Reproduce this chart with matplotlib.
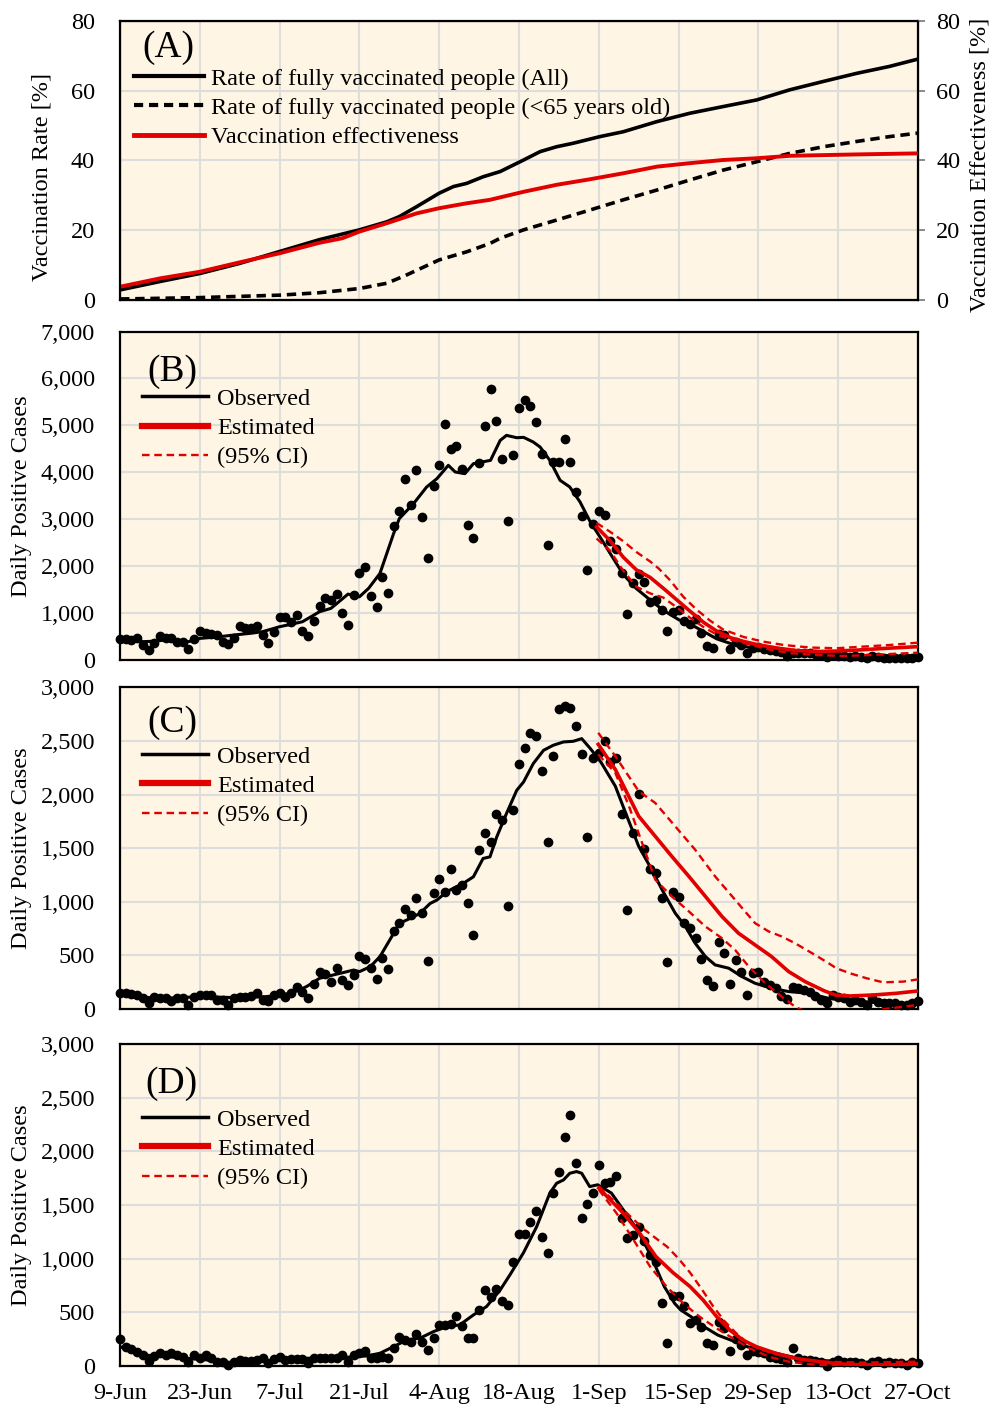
import numpy as np
import matplotlib
matplotlib.use("Agg")
import matplotlib.pyplot as plt
from matplotlib.lines import Line2D
from matplotlib.ticker import FuncFormatter

plt.rcParams['font.family'] = ['Liberation Serif', 'DejaVu Serif']
FS = 17.5
plt.rcParams['font.size'] = FS

# x axis: days since 9-Jun
tick_days = list(range(0, 141, 14))
tick_labels = ['9-Jun', '23-Jun', '7-Jul', '21-Jul', '4-Aug', '18-Aug', '1-Sep',
               '15-Sep', '29-Sep', '13-Oct', '27-Oct']
days = np.arange(141)

# ---- panel A: vaccination
vac_all_d = [0, 7, 14, 21, 28, 35, 42, 46.8, 49, 52, 56, 58.5, 60.8, 63.7, 66.7, 70.8, 73.7,
             76.6, 79.5, 84.2, 88.3, 94.2, 100, 105.8, 111.7, 117.5, 123.4, 129.2, 135, 140]
vac_all = [2.9, 5.3, 7.6, 10.5, 13.9, 17.3, 20.1, 22.4, 23.9, 26.7, 30.6, 32.5, 33.4, 35.3, 36.8,
           40.1, 42.5, 43.9, 44.9, 46.8, 48.2, 51.1, 53.5, 55.4, 57.3, 60.2, 62.6, 64.9, 66.9, 69.0]
vac_u65_d = [0, 14, 28, 35, 42, 46.8, 50.3, 56, 60.8, 64.9, 66.7, 70.8, 76.6, 82.5, 88.3, 94.2,
             100, 105.8, 111.7, 117.5, 123.4, 129.2, 135, 140]
vac_u65 = [0.3, 0.7, 1.4, 2.1, 3.3, 4.8, 7.2, 11.5, 13.8, 16.2, 17.7, 20.1, 22.9, 25.8, 28.7, 31.5,
           34.4, 37.2, 39.6, 42.0, 43.9, 45.4, 46.8, 47.8]
eff_d = [0, 7, 14, 21, 28, 35, 39, 42, 46.8, 52, 56, 60.8, 64.9, 70.8, 76.6, 82.5, 88.3, 94.2,
         100, 105.8, 111.7, 117.5, 123.4, 129.2, 140]
eff = [3.8, 6.2, 8.1, 10.8, 13.4, 16.4, 17.7, 19.6, 22.0, 24.8, 26.3, 27.7, 28.7, 31.0, 33.0, 34.6,
       36.3, 38.2, 39.2, 40.1, 40.6, 41.3, 41.5, 41.7, 42.0]

# ---- panel B
b_dots = [450, 440, 425, 470, 320, 213, 355, 510, 460, 460, 390, 390, 234, 440, 624, 567, 546, 532,
          390, 333, 460, 723, 674, 674, 723, 532, 355, 603, 922, 922, 815, 957, 617, 510, 830, 1156,
          1312, 1277, 1404, 1007, 745, 1380, 1844, 1971, 1362, 1135, 1759, 1433, 2851, 3177, 3865,
          3298, 4043, 3050, 2184, 3702, 4163, 5035, 4503, 4553, 4064, 2886, 2610, 4199, 4979, 5766,
          5092, 4291, 2957, 4376, 5376, 5532, 5404, 5071, 4383, 2447, 4220, 4220, 4702, 4220, 3582,
          3078, 1915, 2908, 3170, 3099, 2539, 2355, 1858, 972, 1631, 1830, 1667, 1241, 1277, 1064,
          617, 1028, 1064, 830, 766, 872, 567, 305, 248, 546, 532, 234, 390, 319, 142, 248, 270, 227,
          213, 191, 177, 85, 156, 156, 142, 142, 120, 100, 60, 110, 95, 80, 60, 75, 60, 40, 85, 60,
          45, 45, 45, 35, 35, 45, 60]
b_obs_d = [0, 2, 4, 6, 8, 10, 12, 14, 17, 20, 23, 25, 28, 30, 32, 35, 37, 38, 40, 42, 43.6, 45.6,
           48, 49, 51.5, 53.8, 55.6, 57.6, 58.8, 60.5, 62, 65, 66.7, 67.8, 69.6, 70.8, 72.5, 73.7,
           75.4, 77.2, 78.9, 80.7, 82.5, 84.2, 86, 88.3, 90.6, 93, 95.3, 98, 101, 104.7, 107.5,
           111.7, 114.6, 117.5, 120.5, 123.4, 129.3, 135, 140]
b_obs = [447, 420, 390, 400, 425, 410, 390, 460, 490, 532, 570, 603, 709, 760, 815, 1028, 1100,
         1200, 1404, 1347, 1525, 1844, 2695, 3014, 3333, 3688, 3865, 4149, 4007, 3971, 4184, 4255,
         4680, 4787, 4737, 4745, 4645, 4539, 4255, 3830, 3688, 3369, 2943, 2624, 2270, 1820, 1520,
         1280, 1060, 860, 700, 450, 335, 240, 205, 170, 142, 106, 71, 57, 57]
b_est_d = [83.6, 86, 88.3, 90.6, 93, 95.3, 97.7, 100, 102.4, 104.7, 107.2, 109.4, 111.7, 115.2,
           118.7, 122.2, 125.7, 129.2, 133.9, 140]
b_est = [2837, 2540, 2190, 1920, 1760, 1530, 1280, 1040, 800, 615, 470, 395, 330, 255, 200, 180,
         190, 210, 245, 284]
b_up_d = [83.6, 86, 88.3, 90.6, 93, 94.5, 96.5, 98.8, 101.1, 103.5, 105.8, 109.4, 112.9, 116.4,
          121.1, 125.7, 130.4, 135.1, 140]
b_up = [2922, 2730, 2530, 2300, 2100, 1950, 1700, 1350, 1080, 840, 650, 490, 390, 320, 265, 250,
        285, 320, 369]
b_lo_d = [83.6, 85.9, 88.3, 90.6, 93, 95.3, 97.7, 100, 102.4, 104.7, 107.2, 110.7, 114.2, 117.7,
          122.2, 126.9, 131.5, 140]
b_lo = [2589, 2340, 1900, 1560, 1420, 1330, 1120, 900, 700, 540, 430, 320, 215, 145, 106, 85, 106,
        156]

# ---- panel C
c_dots = [152, 146, 140, 130, 99, 59, 109, 106, 99, 75, 106, 106, 37, 115, 130, 130, 130, 84, 84,
          37, 99, 109, 115, 121, 146, 84, 75, 130, 146, 115, 152, 202, 161, 99, 233, 348, 326, 255,
          379, 270, 224, 317, 494, 463, 379, 276, 472, 370, 730, 804, 929, 876, 1031, 891, 447,
          1078, 1217, 1090, 1304, 1106, 1155, 991, 689, 1481, 1646, 1553, 1823, 1761, 960, 1854,
          2289, 2438, 2578, 2547, 2217, 1553, 2360, 2801, 2823, 2807, 2637, 2382, 1606, 2345, 2390,
          2500, 2304, 2345, 1817, 922, 1646, 2009, 1488, 1304, 1264, 1031, 435, 1093, 1040, 804,
          752, 658, 463, 270, 214, 627, 525, 230, 457, 348, 130, 332, 348, 255, 224, 193, 121, 90,
          208, 193, 177, 161, 121, 84, 53, 130, 115, 99, 68, 84, 68, 37, 99, 68, 53, 53, 53, 37, 37,
          53, 75]
c_obs_d = [0, 4, 8, 14, 20, 25.7, 30, 32.7, 35, 37.4, 41, 42, 43.9, 45.6, 48, 49, 50.9, 52.6, 54.4,
           55.6, 57.3, 59, 60.2, 62, 63.7, 64.9, 66.1, 67.8, 69.6, 70.8, 72.5, 74.3, 76, 77.8, 79.5,
           81, 82.5, 84.4, 86.9, 88.7, 91, 93.3, 95.1, 97.4, 99.2, 100.9, 102.7, 104.4, 106.8, 109.1,
           111.4, 114.3, 117.3, 120.8, 124.3, 127, 130.4, 133.9, 137.4, 140]
c_obs = [152, 109, 99, 115, 106, 115, 146, 208, 286, 317, 363, 348, 394, 488, 705, 798, 845, 891,
         984, 1016, 1093, 1140, 1171, 1233, 1404, 1419, 1606, 1823, 2040, 2118, 2289, 2413, 2460,
         2491, 2497, 2522, 2430, 2300, 2078, 1829, 1517, 1299, 1112, 894, 769, 614, 489, 411, 380,
         302, 240, 193, 162, 146, 99, 84, 68, 53, 28, 68]
c_est_d = [83.9, 86.9, 91, 93.9, 96.8, 99.8, 102.7, 105.6, 108.5, 111.4, 114.3, 117.3, 120.2,
           123.5, 125.5, 128.1, 132.1, 136.2, 140]
c_est = [2469, 2234, 1798, 1611, 1424, 1237, 1050, 863, 707, 598, 489, 349, 255, 170, 130, 121,
         130, 146, 168]
c_up_d = [83.9, 86.9, 91, 93.9, 97.4, 100.9, 104.4, 107.9, 111.4, 113.8, 116.1, 118.4, 121.9,
          124.3, 125.7, 128.1, 131, 133.9, 137.4, 140]
c_up = [2576, 2358, 2031, 1922, 1704, 1486, 1237, 1019, 801, 723, 676, 614, 505, 427, 379, 332,
        286, 248, 255, 276]
c_lo_d = [83.9, 86.9, 89.3, 91.6, 93.9, 96.8, 99.8, 102.7, 105.6, 107.9, 110.3, 113.2, 116.1,
          118.4, 120.2, 125, 130, 133, 135, 138, 140]
c_lo = [2374, 2202, 1891, 1548, 1206, 1050, 910, 769, 660, 551, 396, 240, 115, 22, -25, -60, -30,
        -10, 5, 25, 37]

# ---- panel D
d_dots = [248, 180, 155, 134, 102, 47, 93, 118, 102, 118, 102, 87, 40, 102, 71, 102, 71, 40, 40, 9,
          40, 56, 50, 50, 56, 71, 25, 62, 81, 56, 62, 62, 62, 31, 71, 71, 71, 71, 71, 102, 40, 102,
          118, 143, 71, 71, 87, 71, 165, 273, 242, 227, 298, 227, 149, 258, 382, 382, 391, 466, 373,
          258, 258, 522, 708, 646, 716, 609, 568, 972, 1227, 1227, 1345, 1444, 1199, 1056, 1609,
          1811, 2137, 2339, 1888, 1382, 1506, 1609, 1873, 1708, 1717, 1770, 1376, 1189, 1220, 1292,
          1168, 1034, 972, 584, 211, 652, 652, 559, 398, 429, 366, 211, 196, 413, 351, 143, 248,
          196, 102, 143, 134, 118, 87, 71, 62, 40, 165, 71, 56, 56, 50, 40, 0, 40, 56, 40, 40, 40,
          25, 9, 40, 50, 25, 40, 31, 25, 9, 40, 31]
d_obs_d = [0, 2.3, 4.1, 8.2, 11.7, 15.2, 18.7, 22.2, 25.7, 29.2, 32.7, 36.3, 39.8, 43.3, 45.6, 48,
           50.3, 52.6, 55, 57.3, 59.6, 62, 64.3, 66.7, 68.4, 70.8, 73.1, 75.4, 76.6, 77.8, 78.9,
           80.1, 81, 82.4, 83.8, 86.2, 88.5, 90.8, 93.2, 95.5, 97.3, 98.4, 100.2, 102.5, 104.9,
           107.2, 110.1, 113, 116.5, 120.6, 123.4, 126.9, 130.4, 133.9, 137.4, 140]
d_obs = [180, 134, 102, 87, 71, 56, 25, 40, 47, 62, 71, 78, 81, 93, 118, 180, 242, 258, 320, 366,
         382, 475, 553, 708, 848, 1056, 1298, 1609, 1702, 1733, 1795, 1811, 1795, 1671, 1688, 1611,
         1439, 1268, 1019, 738, 583, 520, 458, 364, 287, 240, 178, 146, 100, 53, 50, 40, 34, 34,
         31, 40]
d_est_d = [84, 88, 91, 94, 97, 100, 102.3, 104.7, 107, 109.3, 111.7, 115.2, 118.7, 122.7, 126, 130,
           135, 140]
d_est = [1657, 1440, 1250, 1020, 870, 740, 614, 458, 333, 240, 178, 115, 69, 40, 20, 10, 10, 19]
d_up_d = [84, 88, 92, 96, 98, 100, 102, 104, 106, 108, 110, 112, 115, 118, 123, 130, 140]
d_up = [1673, 1470, 1270, 1110, 1000, 870, 720, 560, 420, 310, 220, 160, 110, 70, 40, 31, 40]
d_lo_d = [84, 87.1, 90.1, 93, 95.9, 98.8, 101.7, 104.7, 107.6, 110.5, 114, 117.5, 122.7, 130, 135,
          140]
d_lo = [1642, 1424, 1174, 925, 738, 583, 458, 349, 255, 162, 84, 37, 9, 0, 5, 16]

RED = '#E00000'
BG = '#FFF5E4'
GRID = '#DDDDDD'
CI_LS = (0, (3.2, 2.0))

fig = plt.figure(figsize=(9.92, 14.06), dpi=100)
L, W = 0.121, 0.8044
axA = fig.add_axes([L, 0.7866, W, 0.1987])
axB = fig.add_axes([L, 0.5306, W, 0.2336])
axC = fig.add_axes([L, 0.2824, W, 0.2287])
axD = fig.add_axes([L, 0.0285, W, 0.2290])


def style(ax, ymax, ystep, fmt=True):
    ax.set_facecolor(BG)
    ax.set_xlim(0, 140)
    ax.set_ylim(0, ymax)
    ax.set_xticks(tick_days)
    ax.set_yticks(np.arange(0, ymax + 1, ystep))
    ax.grid(True, color=GRID, lw=1.5)
    ax.set_axisbelow(True)
    for s in ax.spines.values():
        s.set_linewidth(1.6)
        s.set_color('black')
    ax.tick_params(axis='both', length=0, labelsize=FS)
    ax.tick_params(axis='y', pad=18)
    ax.tick_params(axis='x', pad=12)
    if fmt:
        ax.yaxis.set_major_formatter(FuncFormatter(lambda v, p: '{:,.0f}'.format(v)))


# panel A
style(axA, 80, 20, fmt=False)
axA.set_xticklabels([])
axA.plot(vac_all_d, vac_all, color='black', lw=2.6)
axA.plot(vac_u65_d, vac_u65, color='black', lw=2.6, ls=(0, (2.6, 1.6)))
axA2 = axA.twinx()
axA2.set_ylim(0, 80)
axA2.set_yticks(np.arange(0, 81, 20))
axA2.plot(eff_d, eff, color=RED, lw=2.8)
axA2.tick_params(axis='y', length=5, width=1.2, color='#777777', pad=8, labelsize=FS)
axA2.spines['right'].set_color('black')
axA.set_ylabel('Vaccination Rate [%]', fontsize=FS)
axA.yaxis.set_label_coords(-0.085, 0.44)
fig.text(980 / 992, 1 - 165 / 1406, 'Vaccination Effectiveness [%]', rotation=90,
         ha='center', va='center', fontsize=FS)
axA.text(0.061, 0.905, '(A)', transform=axA.transAxes, fontsize=27, ha='center', va='center')
hA = [Line2D([], [], color='black', lw=3),
      Line2D([], [], color='black', lw=3, ls=(0, (2.2, 1.4))),
      Line2D([], [], color=RED, lw=3.5)]
axA.legend(hA, ['Rate of fully vaccinated people (All)',
                'Rate of fully vaccinated people (<65 years old)',
                'Vaccination effectiveness'],
           loc='upper left', bbox_to_anchor=(0.017, 0.832), frameon=False, fontsize=FS,
           handlelength=2.9, handletextpad=0.3, labelspacing=0.3, borderpad=0, borderaxespad=0)

panels = [
    (axB, 7000, 1000, b_dots, b_obs_d, b_obs, b_est_d, b_est, b_up_d, b_up, b_lo_d, b_lo, '(B)',
     0.877, 0.829),
    (axC, 3000, 500, c_dots, c_obs_d, c_obs, c_est_d, c_est, c_up_d, c_up, c_lo_d, c_lo, '(C)',
     0.89, 0.819),
    (axD, 3000, 500, d_dots, d_obs_d, d_obs, d_est_d, d_est, d_up_d, d_up, d_lo_d, d_lo, '(D)',
     0.876, 0.799),
]
for (ax, ymax, ystep, dots, od, ov, ed, ev, ud, uv, ld, lv, lab, ly, legy) in panels:
    style(ax, ymax, ystep)
    ax.scatter(days, dots, s=36, color='black', zorder=3, clip_on=False)
    ax.plot(od, ov, color='black', lw=2.2, zorder=4)
    ax.plot(ed, ev, color=RED, lw=2.6, zorder=5)
    ax.plot(ud, uv, color=RED, lw=1.7, ls=CI_LS, zorder=5)
    ax.plot(ld, lv, color=RED, lw=1.7, ls=CI_LS, zorder=5)
    ax.set_ylabel('Daily Positive Cases', fontsize=FS)
    ax.yaxis.set_label_coords(-0.11, 0.5)
    ax.text(0.065, ly, lab, transform=ax.transAxes, fontsize=27, ha='center', va='center')
    h = [Line2D([], [], color='black', lw=2.5),
         Line2D([], [], color=RED, lw=4.5),
         Line2D([], [], color=RED, lw=1.7, ls=CI_LS)]
    ax.legend(h, ['Observed', 'Estimated', '(95% CI)'], loc='upper left',
              bbox_to_anchor=(0.027, legy), frameon=False, fontsize=FS, handlelength=2.75,
              handletextpad=0.37, labelspacing=0.3, borderpad=0, borderaxespad=0)
    if ax is not axD:
        ax.set_xticklabels([])
    else:
        ax.set_xticklabels(tick_labels)

fig.savefig('out.png', dpi=100)
